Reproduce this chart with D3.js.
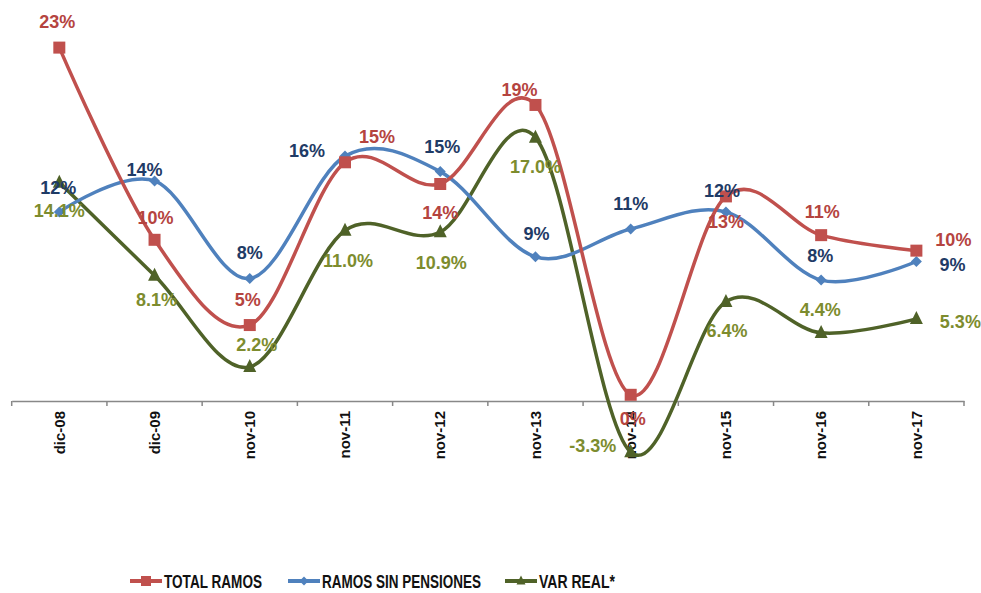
<!DOCTYPE html>
<html><head><meta charset="utf-8">
<script src="https://cdn.jsdelivr.net/npm/d3@7"></script>
<style>body{margin:0;background:#fff}</style>
</head><body>
<svg id="c" width="981" height="593"></svg>
<script>
const categories = ["dic-08","dic-09","nov-10","nov-11","nov-12","nov-13","nov-14","nov-15","nov-16","nov-17"];
const totalRamos = [22.8,10.4,4.9,15.4,14.0,19.1,0.4,13.2,10.7,9.7];
const totalRamosLabels = ["23%","10%","5%","15%","14%","19%","0%","13%","11%","10%"];
const sinPensiones = [12.2,14.2,7.9,15.8,14.8,9.3,11.1,12.2,7.8,9.0];
const sinPensionesLabels = ["12%","14%","8%","16%","15%","9%","11%","12%","8%","9%"];
const varReal = [14.1,8.1,2.2,11.0,10.9,17.0,-3.3,6.4,4.4,5.3];
const varRealLabels = ["14.1%","8.1%","2.2%","11.0%","10.9%","17.0%","-3.3%","6.4%","4.4%","5.3%"];
const seriesNames = ["TOTAL RAMOS","RAMOS SIN PENSIONES","VAR REAL*"];

// label offsets (layout only)
const offRed = [[-2,-26],[1,-22],[-2,-25],[32,-26],[0,29],[-16,-15],[2,24],[0,25],[1,-23],[37,-11]];
const offBlue = [[-1,-24],[-10,-11],[0,-26],[-38,-5],[2,-25],[1,-23],[0,-25],[-4,-21],[-1,-24],[36,3]];
const offGreen = [[0,28],[2,24],[7,-22],[3,30],[1,31],[0,29],[-38,-6],[1,29],[-1,-23],[44,3]];

const svg = d3.select("#c");
const x = d3.scaleBand().domain(categories).range([11.7,964]);
const y = d3.scaleLinear().domain([0,20]).range([401,91]);
const cx = d => x(d) + x.bandwidth()/2;

// axis
const ax = svg.append("g").attr("transform",`translate(0,${y(0)})`)
  .call(d3.axisBottom(x).tickSize(0).tickFormat(d=>d));
ax.select(".domain").attr("stroke","#888").attr("stroke-width",1.5);
ax.selectAll(".tick text")
  .attr("transform","rotate(-90)")
  .attr("x",-10).attr("y",0).attr("dy","0.35em")
  .attr("text-anchor","end")
  .attr("font-family","Liberation Sans, Arial, sans-serif")
  .attr("font-weight","bold").attr("font-size","15px").attr("fill","#111");
const bounds = categories.map(c=>x(c)).concat([x.range()[1]]);
ax.selectAll("line.bt").data(bounds).enter().append("line")
  .attr("x1",d=>d).attr("x2",d=>d).attr("y1",0).attr("y2",5)
  .attr("stroke","#888").attr("stroke-width",1.5);

const curve = d3.curveCatmullRom.alpha(0);
const line = d3.line().x((d,i)=>cx(categories[i])).y(d=>y(d)).curve(curve);

const series = [
  {vals: totalRamos, labels: totalRamosLabels, off: offRed, color:"#c0504d", lc:"#b5443f", marker:"square"},
  {vals: sinPensiones, labels: sinPensionesLabels, off: offBlue, color:"#4f81bd", lc:"#1f3b66", marker:"diamond"},
  {vals: varReal, labels: varRealLabels, off: offGreen, color:"#4f6228", lc:"#7d8c2e", marker:"triangle"}
];

function drawMarker(g, type, color, px, py, s) {
  if (type==="square") g.append("rect").attr("x",px-s/2).attr("y",py-s/2).attr("width",s).attr("height",s).attr("fill",color);
  else if (type==="diamond") g.append("path").attr("d",`M${px},${py-s/2}L${px+s/2},${py}L${px},${py+s/2}L${px-s/2},${py}Z`).attr("fill",color);
  else g.append("path").attr("d",`M${px},${py-s*0.6}L${px+s/2},${py+s*0.4}L${px-s/2},${py+s*0.4}Z`).attr("fill",color);
}
const msize = {square:12, diamond:11, triangle:13};

[2,1,0].forEach(k=>{
  const s = series[k];
  svg.append("path").datum(s.vals).attr("d",line).attr("fill","none")
    .attr("stroke",s.color).attr("stroke-width",3.5).attr("stroke-linejoin","round");
  const g = svg.append("g");
  s.vals.forEach((v,i)=>drawMarker(g,s.marker,s.color,cx(categories[i]),y(v),msize[s.marker]));
});
series.forEach(s=>{
  svg.append("g").selectAll("text").data(s.vals).enter().append("text")
    .attr("x",(v,i)=>cx(categories[i])+s.off[i][0])
    .attr("y",(v,i)=>y(v)+s.off[i][1])
    .attr("dy","0.35em").attr("text-anchor","middle")
    .attr("font-family","Liberation Sans, Arial, sans-serif")
    .attr("font-weight","bold").attr("font-size","18px")
    .attr("fill",s.lc)
    .text((v,i)=>s.labels[i]);
});

// legend
const legX = [130,288,505];
const legW = [98,159,76];
const lg = svg.append("g").attr("transform","translate(0,581)");
series.forEach((s,k)=>{
  const g = lg.append("g").attr("transform",`translate(${legX[k]},0)`);
  g.append("line").attr("x1",0).attr("x2",32).attr("y1",0).attr("y2",0).attr("stroke",s.color).attr("stroke-width",4);
  drawMarker(g,s.marker,s.color,16,0,s.marker==="square"?10:9);
  g.append("text").attr("x",34).attr("y",0).attr("dy","0.36em")
    .attr("font-family","Liberation Sans, Arial, sans-serif")
    .attr("font-weight","bold").attr("font-size","19px").attr("fill","#111")
    .attr("textLength",legW[k]).attr("lengthAdjust","spacingAndGlyphs")
    .text(seriesNames[k]);
});
</script>
</body></html>
